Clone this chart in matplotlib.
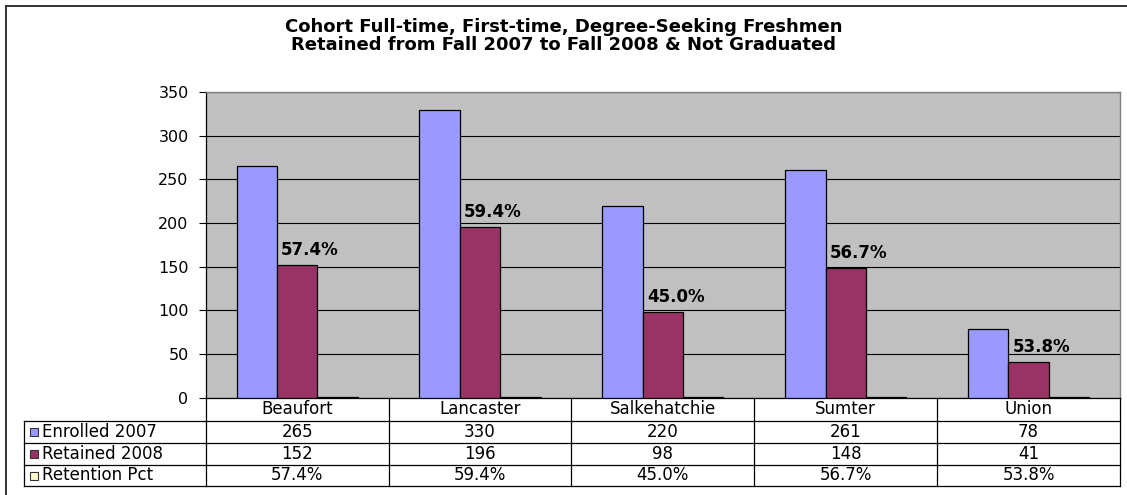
import matplotlib
matplotlib.use("Agg")
import matplotlib.pyplot as plt
from matplotlib.transforms import blended_transform_factory
from matplotlib.lines import Line2D
from matplotlib.patches import Rectangle

# ---- data ----
campuses = ["Beaufort", "Lancaster", "Salkehatchie", "Sumter", "Union"]
enrolled_2007 = [265, 330, 220, 261, 78]
retained_2008 = [152, 196, 98, 148, 41]
retention_pct = [57.4, 59.4, 45.0, 56.7, 53.8]
series_names = ["Enrolled 2007", "Retained 2008", "Retention Pct"]
series_colors = ["#9999FF", "#993366", "#FFFFCC"]
y_ticks = [0, 50, 100, 150, 200, 250, 300, 350]
title_lines = ["Cohort Full-time, First-time, Degree-Seeking Freshmen",
               "Retained from Fall 2007 to Fall 2008 & Not Graduated"]

plt.rcParams['font.family'] = ['DejaVu Sans']

W, H = 1127, 495
fig = plt.figure(figsize=(W / 100, H / 100), dpi=100)
fig.patch.set_facecolor("white")


def fx(px):
    return px / W


def fy(py):
    return 1 - py / H


# axes placement (pixel geometry of the reference)
ax_l, ax_r, ax_t, ax_b = 205.7, 1120.0, 92.2, 397.5
ax = fig.add_axes([fx(ax_l), fy(ax_b), fx(ax_r - ax_l), (ax_b - ax_t) / H])
ax.set_facecolor("#C0C0C0")

n = len(campuses)
xs = list(range(n))
w = 0.221
pct_frac = [p / 100 for p in retention_pct]
series_vals = [enrolled_2007, retained_2008, pct_frac]
for k, (vals, col) in enumerate(zip(series_vals, series_colors)):
    ax.bar([x + (k - 1) * w for x in xs], vals, width=w, color=col,
           edgecolor="black", linewidth=0.9, zorder=3)

# percentage labels above retained bars
for x, v, p in zip(xs, retained_2008, retention_pct):
    ax.annotate(f"{p:.1f}%", xy=(x + 0.07, v), xytext=(0, 10.8),
                textcoords="offset points", ha="center", va="center",
                fontsize=12, fontweight="bold", zorder=4)

ax.set_xlim(-0.5, n - 0.5)
ax.set_ylim(0, 350)
ax.set_yticks(y_ticks)
ax.set_yticklabels([str(t) for t in y_ticks], fontsize=11.5)
ax.set_xticks([])
ax.tick_params(axis="y", direction="out", length=5.3, width=0.8, pad=7, colors="black")
ax.grid(axis="y", color="black", linewidth=0.8, zorder=1)
ax.set_axisbelow(True)
for s in ["top", "right"]:
    ax.spines[s].set_color("#808080")
    ax.spines[s].set_linewidth(1.0)
ax.spines["left"].set_color("black")
ax.spines["bottom"].set_color("black")
ax.spines["left"].set_linewidth(0.9)
ax.spines["bottom"].set_linewidth(0.9)

# ---- data table ----
tr = blended_transform_factory(ax.transData, fig.transFigure)
row_lines = [421, 443, 465, 486]
row_centers = [409.5, 432, 454, 475.5]
lw = 0.9
tfs = 12
for py in row_lines:
    fig.add_artist(Line2D([fx(ax_l), fx(ax_r)], [fy(py), fy(py)], color="black", lw=lw))
    fig.add_artist(Line2D([fx(24), fx(ax_l)], [fy(py), fy(py)], color="black", lw=lw))
for b in range(n + 1):
    fig.add_artist(Line2D([b - 0.5, b - 0.5], [fy(ax_b), fy(row_lines[-1])],
                          color="black", lw=lw, transform=tr))
fig.add_artist(Line2D([fx(24), fx(24)], [fy(row_lines[0]), fy(row_lines[-1])], color="black", lw=lw))

for x, c in zip(xs, campuses):
    fig.text(x, fy(row_centers[0]), c, transform=tr, ha="center", va="center", fontsize=tfs)
table_rows = [[str(v) for v in enrolled_2007],
              [str(v) for v in retained_2008],
              [f"{p:.1f}%" for p in retention_pct]]
for r, (row, name, col) in enumerate(zip(table_rows, series_names, series_colors)):
    yc = fy(row_centers[r + 1])
    for x, t in zip(xs, row):
        fig.text(x, yc, t, transform=tr, ha="center", va="center", fontsize=tfs)
    fig.add_artist(Rectangle((fx(30), yc - 4 / H), 8 / W, 8 / H, facecolor=col,
                             edgecolor="#333333", lw=0.8, transform=fig.transFigure))
    fig.text(fx(42), yc, name, ha="left", va="center", fontsize=tfs)

# ---- title ----
fig.text(0.5, fy(27.5), title_lines[0], ha="center", va="center", fontsize=13, fontweight="bold")
fig.text(0.5, fy(44.5), title_lines[1], ha="center", va="center", fontsize=13, fontweight="bold")

# ---- chart border (left & top visible) ----
fig.add_artist(Line2D([fx(5.5), fx(5.5)], [fy(5.5), 0], color="#333333", lw=1.4))
fig.add_artist(Line2D([fx(5.5), 1], [fy(5.5), fy(5.5)], color="#333333", lw=1.4))

fig.savefig("out.png", dpi=100)
